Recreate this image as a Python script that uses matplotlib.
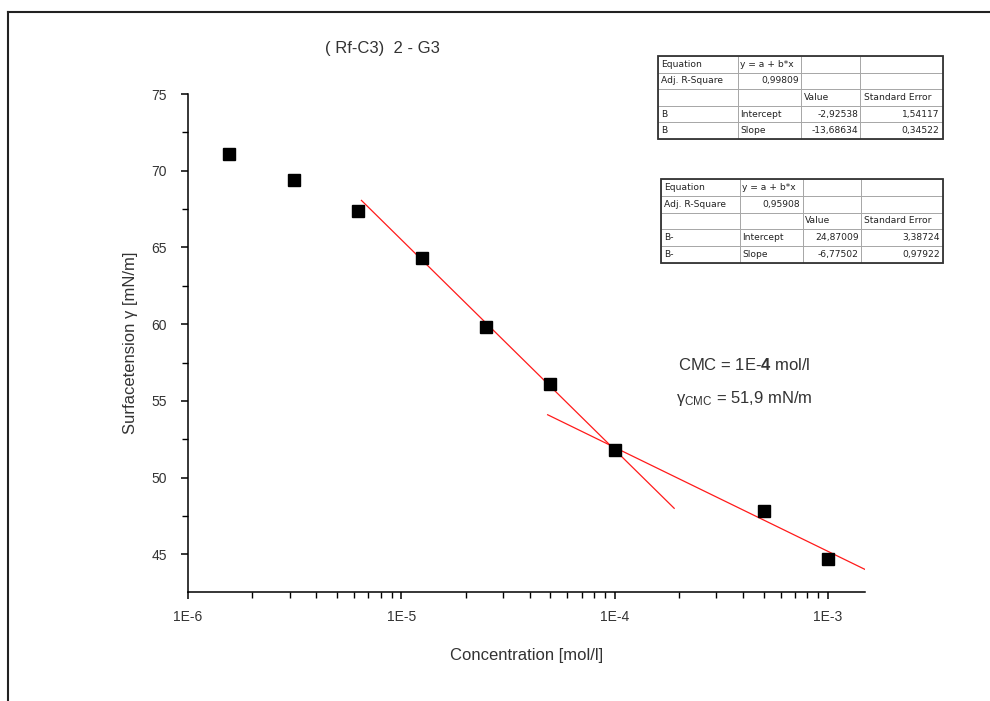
import matplotlib
matplotlib.use("Agg")
import matplotlib.pyplot as plt
from matplotlib.lines import Line2D
from matplotlib.patches import Rectangle
from matplotlib.ticker import FixedLocator, LogLocator, NullFormatter, FixedFormatter
import numpy as np

plt.rcParams['font.family'] = ['Liberation Sans', 'DejaVu Sans']
plt.rcParams['mathtext.fontset'] = 'custom'
plt.rcParams['mathtext.rm'] = 'Liberation Sans'
plt.rcParams['mathtext.it'] = 'Liberation Sans:italic'
plt.rcParams['mathtext.bf'] = 'Liberation Sans:bold'

# ---- data ----
concentration = [1.5625e-6, 3.125e-6, 6.25e-6, 1.25e-5, 2.5e-5, 5e-5, 1e-4, 5e-4, 1e-3]
surface_tension = [71.1, 69.4, 67.4, 64.3, 59.8, 56.1, 51.8, 47.8, 44.7]

fit1_intercept, fit1_slope = -2.92538, -13.68634
fit1_range = [6.5e-6, 1.9e-4]
fit2_intercept, fit2_slope = 24.87009, -6.77502
fit2_range = [4.85e-5, 1.5e-3]

x_ticks = [1e-6, 1e-5, 1e-4, 1e-3]
x_tick_labels = ["1E-6", "1E-5", "1E-4", "1E-3"]
y_ticks = [45, 50, 55, 60, 65, 70, 75]

table1 = [["Equation", "y = a + b*x", "", ""],
          ["Adj. R-Square", "0,99809", "", ""],
          ["", "", "Value", "Standard Error"],
          ["B", "Intercept", "-2,92538", "1,54117"],
          ["B", "Slope", "-13,68634", "0,34522"]]
table2 = [["Equation", "y = a + b*x", "", ""],
          ["Adj. R-Square", "0,95908", "", ""],
          ["", "", "Value", "Standard Error"],
          ["B-", "Intercept", "24,87009", "3,38724"],
          ["B-", "Slope", "-6,77502", "0,97922"]]

W, H = 990, 701
fig = plt.figure(figsize=(9.9, 7.01), dpi=100)

def fx(px):
    return px / W

def fy(py):
    return 1 - py / H

ax = fig.add_axes([fx(188), fy(592), fx(865) - fx(188), fy(94) - fy(592)])
ax.set_xscale('log')
ax.set_xlim(1e-6, 1.49e-3)
ax.set_ylim(42.55, 75)

ax.plot(concentration, surface_tension, linestyle='none', marker='s', ms=8,
        color='black', zorder=3)

for (a, b, rng) in [(fit1_intercept, fit1_slope, fit1_range),
                    (fit2_intercept, fit2_slope, fit2_range)]:
    xs = np.array(rng)
    ax.plot(xs, a + b * np.log10(xs), color='#ff1a1a', lw=0.9, zorder=2)

for s in ['top', 'right']:
    ax.spines[s].set_visible(False)
for s in ['left', 'bottom']:
    ax.spines[s].set_linewidth(1.1)

ax.xaxis.set_major_locator(FixedLocator(x_ticks))
ax.xaxis.set_major_formatter(FixedFormatter(x_tick_labels))
ax.xaxis.set_minor_locator(LogLocator(base=10, subs=np.arange(2, 10)))
ax.xaxis.set_minor_formatter(NullFormatter())
ax.yaxis.set_major_locator(FixedLocator(y_ticks))
ax.yaxis.set_minor_locator(FixedLocator([y + 2.5 for y in y_ticks[:-1]]))
ax.tick_params(axis='both', which='major', direction='out', length=5, width=1.1,
               labelsize=10, labelcolor='#333333', pad=8)
ax.tick_params(axis='both', which='minor', direction='out', length=4, width=1.0)
ax.tick_params(axis='y', which='major', pad=10)

ax.set_xlabel("Concentration [mol/l]", fontsize=12, color='#333333', labelpad=17)
ax.set_ylabel("Surfacetension γ [mN/m]", fontsize=12, color='#333333', labelpad=10)

fig.text(fx(382), fy(48), "( Rf-C3)  2 - G3", fontsize=12, color='#333333',
         ha='center', va='center')

fig.text(fx(678), fy(365), r"CMC = 1E-$\mathbf{4}$ mol/l", fontsize=12,
         color='#333333', ha='left', va='center')
fig.text(fx(676), fy(398), r"$\mathrm{\gamma}_{\rm CMC}$ = 51,9 mN/m", fontsize=12,
         color='#333333', ha='left', va='center')

col_px = [80, 64, 59, 83]

def draw_table(data, x0, y0, x1, y1):
    tax = fig.add_axes([fx(x0), fy(y1), fx(x1) - fx(x0), fy(y0) - fy(y1)])
    tax.set_axis_off()
    tot = sum(col_px)
    widths = [c / tot for c in col_px]
    tb = tax.table(cellText=data, colWidths=widths, bbox=[0, 0, 1, 1],
                   cellLoc='left')
    tb.auto_set_font_size(False)
    for (r, c), cell in tb.get_celld().items():
        cell.set_edgecolor('#a0a0a0')
        cell.set_linewidth(0.6)
        t = cell.get_text()
        t.set_fontsize(6.6)
        t.set_family(['DejaVu Sans'])
        t.set_color('#222222')
        right = (c >= 2 and r >= 3) or (r == 1 and c == 1)
        if right:
            t.set_ha('right')
            cell._loc = 'right'
        cell.PAD = 0.04
    tax.add_patch(Rectangle((0, 0), 1, 1, transform=tax.transAxes, fill=False,
                            edgecolor='#333333', lw=1.3, clip_on=False))

draw_table(table1, 658, 56, 943, 139)
draw_table(table2, 661, 179, 943, 263)

# page frame
fig.add_artist(Line2D([fx(8), 1.0], [fy(12), fy(12)], color='#222222', lw=1.5))
fig.add_artist(Line2D([fx(8), fx(8)], [fy(12), 0.0], color='#222222', lw=1.5))

fig.savefig("out.png", dpi=100)
